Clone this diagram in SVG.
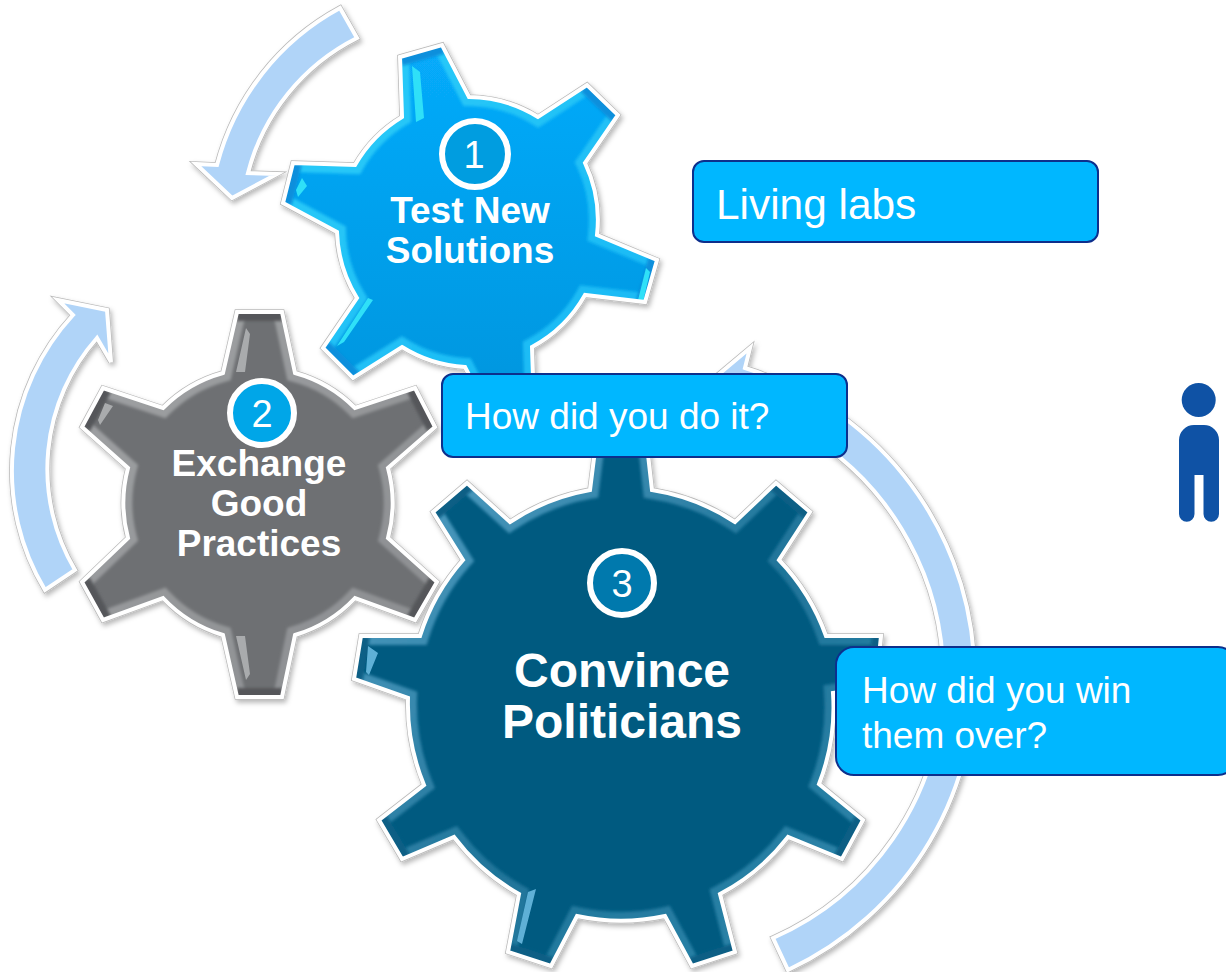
<svg xmlns="http://www.w3.org/2000/svg" width="1226" height="972" viewBox="0 0 1226 972">
<style>
text{font-family:"Liberation Sans",Arial,sans-serif;fill:#fff}
.b{font-weight:700;text-anchor:middle}
.n{font-size:38px;text-anchor:middle}
.box{fill:#00b7ff;stroke:#0d2f8c;stroke-width:2}
.bt{font-size:37px}
.edge{fill:none;stroke:#b9b9b9;stroke-width:5.5;stroke-linejoin:miter}
.white{fill:none;stroke:#fff;stroke-width:4;stroke-linejoin:miter}
.arr{fill:#b0d4f8}
.c{stroke:#fff;stroke-width:6}
.ov{fill:none;stroke-linejoin:miter;stroke-width:18;filter:url(#bl)}
</style>
<defs>
<filter id="sh" x="-10%" y="-10%" width="125%" height="125%"><feDropShadow dx="2" dy="3" stdDeviation="2.5" flood-color="#000" flood-opacity=".28"/></filter>
<filter id="bl" filterUnits="userSpaceOnUse" x="0" y="0" width="1226" height="972"><feGaussianBlur stdDeviation="1.4"/></filter>
<linearGradient id="g1" x1="0" y1="0" x2="0" y2="1"><stop offset="0" stop-color="#07abfb"/><stop offset="1" stop-color="#0095dd"/></linearGradient>
<linearGradient id="b1" x1="0" y1="0" x2="1" y2="1"><stop offset="0" stop-color="#2ccdf9"/><stop offset="1" stop-color="#16b6f4"/></linearGradient>
<linearGradient id="b2" x1="0" y1="0" x2="1" y2="1"><stop offset="0" stop-color="#a0a2a4"/><stop offset="1" stop-color="#8a8c8f"/></linearGradient>
<linearGradient id="b3" x1="0" y1="0" x2="1" y2="1"><stop offset="0" stop-color="#5aa6cb"/><stop offset=".55" stop-color="#1f7499"/><stop offset="1" stop-color="#2f88ad"/></linearGradient>
<path id="p1" d="M400,57L442,45L469,97A133,133 0 0 1 538,117L587,85L618,115L585,163A133,133 0 0 1 597,235L657,260L645,302L585,295A133,133 0 0 1 532,347L534,407L492,419L465,367A133,133 0 0 1 402,347L353,378L323,348L357,298A133,133 0 0 1 337,232L283,203L293,163L355,165A133,133 0 0 1 402,117Z"/>
<path id="p2" d="M237,312L282,312L295,373A135,135 0 0 1 355,408L415,388L435,427L388,468A135,135 0 0 1 388,538L437,582L415,620L355,598A135,135 0 0 1 295,635L282,697L237,697L223,635A135,135 0 0 1 163,598L103,620L82,582L128,538A135,135 0 0 1 128,468L82,427L103,388L163,408A135,135 0 0 1 223,373Z"/>
<path id="p3" d="M590,490L600,410L643,410L652,490A210,210 0 0 1 735,522L776,483L810,512L779,560A210,210 0 0 1 826,636L881,636L876,687L833,693A210,210 0 0 1 819,784L863,820L842,859L788,837A210,210 0 0 1 720,894L735,952L692,966L665,916A210,210 0 0 1 577,916L551,966L508,952L519,894A210,210 0 0 1 454,837L402,859L379,820L424,785A210,210 0 0 1 408,698L354,679L361,636L420,636A210,210 0 0 1 463,560L433,512L467,483L510,522A210,210 0 0 1 590,490Z"/>
<clipPath id="c1"><use href="#p1"/></clipPath>
<clipPath id="c2"><use href="#p2"/></clipPath>
<clipPath id="c3"><use href="#p3"/></clipPath>
<path id="a1" d="M340,8A250,250 0 0 0 217,165L196,164L232,198L277,174L248,173A210,210 0 0 1 357,38Z"/>
<path id="a2" d="M45,590A230,230 0 0 1 73,315L58,300L107,310L111,362L97,338A198,198 0 0 0 75,570Z"/>
<path id="a3" d="M788,970A323,323 0 0 0 745,368L750,348L700,390L800,440L800,430A285,285 0 0 1 773,938Z"/>
</defs>
<g id="connectors">
<g id="arrow-1" filter="url(#sh)"><use href="#a1" class="edge"/><use href="#a1" class="arr"/><use href="#a1" class="white"/></g>
<g id="arrow-2" filter="url(#sh)"><use href="#a2" class="edge"/><use href="#a2" class="arr"/><use href="#a2" class="white"/></g>
<g id="arrow-3" filter="url(#sh)"><use href="#a3" class="edge"/><use href="#a3" class="arr"/><use href="#a3" class="white"/></g>
</g>
<g id="gear-1">
<g filter="url(#sh)"><use href="#p1" class="edge"/><use href="#p1" fill="url(#g1)"/></g>
<g clip-path="url(#c1)">
<path class="ov" stroke="url(#b1)" d="M442,45L469,97A133,133 0 0 1 538,117L587,85M618,115L585,163A133,133 0 0 1 597,235L657,260M645,302L585,295A133,133 0 0 1 532,347L534,407M492,419L465,367A133,133 0 0 1 402,347L353,378M323,348L357,298A133,133 0 0 1 337,232L283,203M293,163L355,165A133,133 0 0 1 402,117L400,57"/>
<path class="ov" stroke="#0a8fdc" d="M400,57L442,45M587,85L618,115M657,260L645,302M534,407L492,419M353,378L323,348M283,203L293,163"/>
<path fill="#2fe0f8" d="M412,66L420,72L424,118L416,122ZM302,178L307,186L298,197L296,190ZM638,300L646,268L650,272L643,302ZM337,346L344,342L373,300L368,298Z"/></g>
<use href="#p1" class="white"/>
<circle class="c" cx="475" cy="154" r="33" fill="#009de0"/><text class="n" x="474" y="168">1</text>
<text class="b" font-size="37" x="470" y="223">Test New</text><text class="b" font-size="37" x="470" y="263">Solutions</text>
</g>
<g id="gear-2">
<g filter="url(#sh)"><use href="#p2" class="edge"/><use href="#p2" fill="#6e7073"/></g>
<g clip-path="url(#c2)">
<path class="ov" stroke="url(#b2)" d="M282,312L295,373A135,135 0 0 1 355,408L415,388M435,427L388,468A135,135 0 0 1 388,538L437,582M415,620L355,598A135,135 0 0 1 295,635L282,697M237,697L223,635A135,135 0 0 1 163,598L103,620M82,582L128,538A135,135 0 0 1 128,468L82,427M103,388L163,408A135,135 0 0 1 223,373L237,312"/>
<path class="ov" stroke="#55575a" d="M237,312L282,312M415,388L435,427M437,582L415,620M282,697L237,697M103,620L82,582M82,427L103,388"/>
<path fill="#a9abad" d="M246,328L250,334L245,372L236,372ZM246,680L250,674L245,636L236,636ZM105,403L113,406L100,425L98,420Z"/></g>
<use href="#p2" class="white"/>
<circle class="c" cx="262" cy="413" r="32" fill="#00a6e8"/><text class="n" x="262" y="427">2</text>
<text class="b" font-size="37" x="259" y="476">Exchange</text><text class="b" font-size="37" x="259" y="516">Good</text><text class="b" font-size="37" x="259" y="556">Practices</text>
</g>
<g id="gear-3">
<g filter="url(#sh)"><use href="#p3" class="edge"/><use href="#p3" fill="#045a80"/></g>
<g clip-path="url(#c3)">
<path class="ov" stroke="url(#b3)" d="M643,410L652,490A210,210 0 0 1 735,522L776,483M810,512L779,560A210,210 0 0 1 826,636L881,636M876,687L833,693A210,210 0 0 1 819,784L863,820M842,859L788,837A210,210 0 0 1 720,894L735,952M692,966L665,916A210,210 0 0 1 577,916L551,966M508,952L519,894A210,210 0 0 1 454,837L402,859M379,820L424,785A210,210 0 0 1 408,698L354,679M361,636L420,636A210,210 0 0 1 463,560L433,512M467,483L510,522A210,210 0 0 1 590,490L600,410"/>
<path class="ov" stroke="#0a5f85" d="M776,483L810,512M881,636L876,687M863,820L842,859M735,952L692,966M551,966L508,952M402,859L379,820M354,679L361,636M433,512L467,483"/>
<path fill="#5fb0d6" d="M368,646L378,653L369,675L366,672ZM528,892L536,889L522,944L517,941Z"/></g>
<use href="#p3" class="white"/>
<circle class="c" cx="622" cy="583" r="32" fill="#0079ad"/><text class="n" x="622" y="597">3</text>
<text class="b" font-size="48" x="622" y="687">Convince</text><text class="b" font-size="48" x="622" y="738">Politicians</text>
</g>
<g id="box-living"><rect class="box" x="693" y="161" width="405" height="81" rx="11"/><text x="716" y="219" font-size="42.4">Living labs</text></g>
<g id="box-how"><rect class="box" x="442" y="374" width="405" height="83" rx="11"/><text class="bt" x="465" y="429">How did you do it?</text></g>
<g id="box-win"><rect class="box" x="836" y="647" width="400" height="128" rx="18"/><text class="bt" x="862" y="703">How did you win</text><text class="bt" x="862" y="748">them over?</text></g>
<g id="person" fill="#0f52a5">
<circle cx="1198.7" cy="400" r="17"/>
<path d="M1179,514V440A15,15 0 0 1 1194,425H1204A15,15 0 0 1 1219,440V514A7.75,7.75 0 0 1 1203.5,514V475H1194.5V514A7.75,7.75 0 0 1 1179,514Z"/>
</g>
</svg>
